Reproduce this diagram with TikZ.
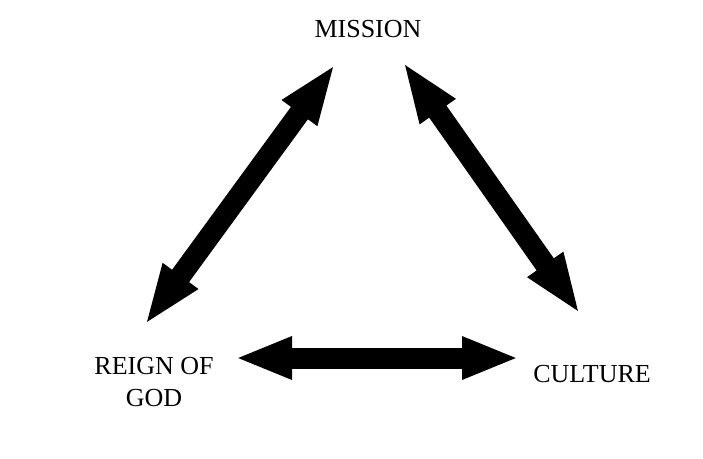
\documentclass[tikz,border=0pt]{standalone}
\usepackage{fontspec}
\setmainfont{Liberation Serif}
\usetikzlibrary{arrows.meta}
\begin{document}
\begin{tikzpicture}[x=1pt,y=-1pt,
  label/.style={inner sep=0pt,font=\fontsize{26}{32}\selectfont,align=center,text=black},
  dbl/.style={line width=21pt,draw=black,
    {Triangle[length=#1,width=39pt]}-{Triangle[length=#1,width=39pt]}}]
\useasboundingbox[fill=white] (0,0) rectangle (703,458);
\node[label,anchor=base] (mission) at (368,37) {MISSION};
\node[label,anchor=base] (culture) at (592,382) {CULTURE};
\node[label,anchor=north] (reign) at (154,357) {REIGN OF\\GOD};
\coordinate (ml) at (335.4,63.8);
\coordinate (rm) at (144.6,325.2);
\coordinate (mr) at (402.7,61.7);
\coordinate (cm) at (580.3,314.3);
\coordinate (rc) at (235,358);
\coordinate (cr) at (519,358);
\draw[dbl=61pt] (rm) -- (ml);
\draw[dbl=61pt] (mr) -- (cm);
\draw[dbl=57pt] (rc) -- (cr);
\end{tikzpicture}
\end{document}
